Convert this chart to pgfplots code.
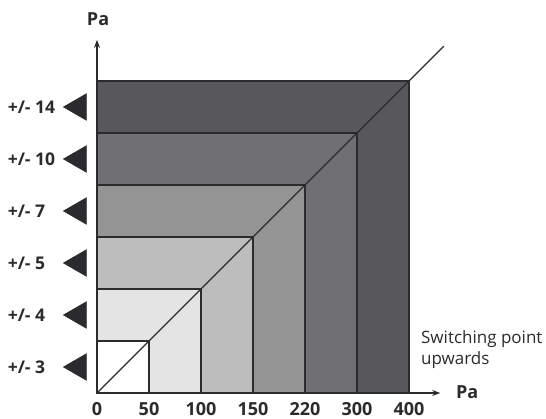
\documentclass[border=0pt]{standalone}
\usepackage{fontspec}
\setmainfont{Open Sans}
\usepackage{pgfplots}
\pgfplotsset{compat=1.18}
\usetikzlibrary{arrows.meta}

\definecolor{lv1}{HTML}{FFFFFF}
\definecolor{lv2}{HTML}{E4E4E5}
\definecolor{lv3}{HTML}{BDBDBE}
\definecolor{lv4}{HTML}{949495}
\definecolor{lv5}{HTML}{707072}
\definecolor{lv6}{HTML}{58585B}
\definecolor{ink}{HTML}{2B2B2D}

\begin{document}
\begin{tikzpicture}
\path[use as bounding box] (-97pt,-26pt) rectangle (449pt,393pt);
\begin{axis}[
    anchor=origin, at={(0pt,0pt)},
    x=52pt, y=52pt,
    xmin=0, xmax=6.6,
    ymin=0, ymax=6.79,
    axis lines=left,
    axis line style={ink, line width=1.2pt, -{Stealth[length=8pt,width=6pt]}},
    xtick={0,1,2,3,4,5,6},
    xticklabels={0,50,100,150,220,300,400},
    ytick=\empty,
    major tick length=0pt,
    xticklabel style={font=\fontsize{18}{21}\selectfont\bfseries, text=ink, anchor=base, yshift=-23pt},
    clip=false,
]
% nested squares, largest first
\addplot[draw=ink, line width=1.3pt, fill=lv6] coordinates {(0,0) (6,0) (6,6) (0,6)} -- cycle;
\addplot[draw=ink, line width=1.3pt, fill=lv5] coordinates {(0,0) (5,0) (5,5) (0,5)} -- cycle;
\addplot[draw=ink, line width=1.3pt, fill=lv4] coordinates {(0,0) (4,0) (4,4) (0,4)} -- cycle;
\addplot[draw=ink, line width=1.3pt, fill=lv3] coordinates {(0,0) (3,0) (3,3) (0,3)} -- cycle;
\addplot[draw=ink, line width=1.3pt, fill=lv2] coordinates {(0,0) (2,0) (2,2) (0,2)} -- cycle;
\addplot[draw=ink, line width=1.3pt, fill=lv1] coordinates {(0,0) (1,0) (1,1) (0,1)} -- cycle;
% diagonal
\addplot[ink, line width=1.3pt] coordinates {(0,0) (6.67,6.67)};
% left triangles
\addplot[only marks, mark=triangle*, mark size=15.5pt,
    mark options={rotate=90, fill=ink, draw=ink}]
    coordinates {(-0.35,0.5) (-0.35,1.5) (-0.35,2.5) (-0.35,3.5) (-0.35,4.5) (-0.35,5.5)};
% labels
\begin{scope}[every node/.style={anchor=west, inner sep=0pt, text=ink, font=\fontsize{17.5}{21}\selectfont\bfseries}]
\node at (axis cs:-1.72,0.5) {+/- 3};
\node at (axis cs:-1.72,1.5) {+/- 4};
\node at (axis cs:-1.72,2.5) {+/- 5};
\node at (axis cs:-1.72,3.5) {+/- 7};
\node at (axis cs:-1.72,4.5) {+/- 10};
\node at (axis cs:-1.72,5.5) {+/- 14};
\end{scope}
\node[text=ink, font=\fontsize{18}{21}\selectfont\bfseries] at (axis cs:0.02,7.19) {Pa};
\node[text=ink, font=\fontsize{18}{21}\selectfont\bfseries] at (axis cs:7.12,0.02) {Pa};
\node[anchor=west, align=left, inner sep=0pt, text=ink, font=\fontsize{17}{21}\selectfont] at (axis cs:6.23,0.83) {Switching point\\upwards};
\end{axis}
\end{tikzpicture}
\end{document}
